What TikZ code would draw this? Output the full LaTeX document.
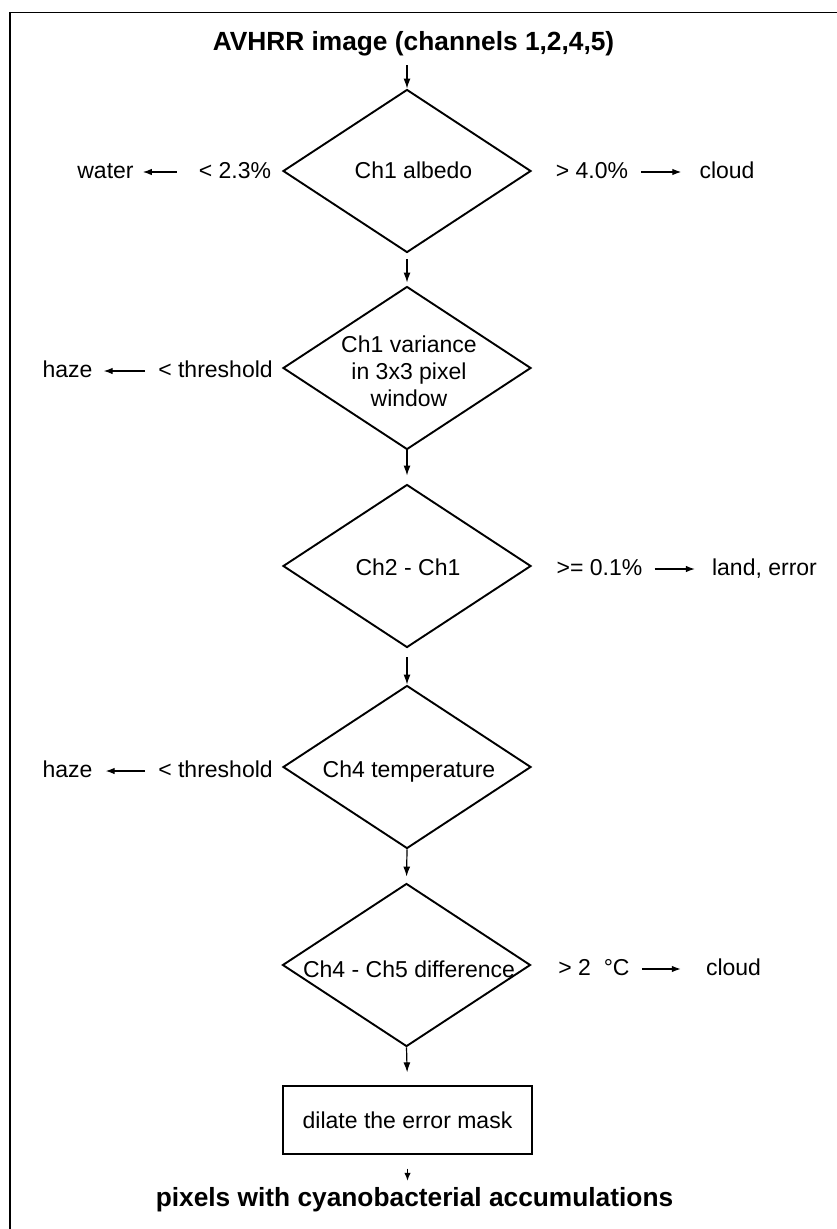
\documentclass[tikz,border=0pt]{standalone}
\usepackage{fontspec}
\setmainfont{Liberation Sans}
\usetikzlibrary{shapes.geometric,arrows.meta}
\begin{document}
\begin{tikzpicture}[x=1pt,y=-1pt,
  dia/.style={draw, diamond, line width=1.9pt, minimum width=248pt, minimum height=163pt, inner sep=0pt},
  lab/.style={inner sep=0pt, anchor=base, font=\fontsize{23}{27}\selectfont, text height=17pt, text depth=5pt},
  mlab/.style={inner sep=0pt, align=center, font=\fontsize{23}{27}\selectfont},
  ttl/.style={inner sep=0pt, anchor=base, font=\bfseries\fontsize{26.3}{30}\selectfont},
  procbox/.style={draw, line width=1.3pt, minimum width=249pt, minimum height=68pt, inner sep=0pt, font=\fontsize{23}{27}\selectfont},
  arr/.style={-{Latex[length=10pt,width=7pt]}, line width=1.2pt},
  harr/.style={-{Latex[length=9pt,width=6.5pt]}, line width=1.2pt}
]
\useasboundingbox (0,0) rectangle (837,1229);
\fill[white] (0,0) rectangle (837,1229);
% frame
\draw[line width=1.8pt] (837,12.5) -- (10,12.5) -- (10,1229);

% titles
\node[ttl] (title) at (413.5,50) {AVHRR image (channels 1,2,4,5)};
\node[ttl] (bt) at (414.5,1206) {pixels with cyanobacterial accumulations};

% diamonds
\node[dia] (d1) at (407,171) {};
\node[lab] (t1) at (413.5,178) {Ch1 albedo};
\node[dia] (d2) at (407,368) {};
\node[mlab] (t2) at (409,371.5) {Ch1 variance\\in 3x3 pixel\\window};
\node[dia] (d3) at (407,566) {};
\node[lab] (t3) at (408,575) {Ch2 - Ch1};
\node[dia] (d4) at (407,767) {};
\node[lab] (t4) at (409,777) {Ch4 temperature};
\node[dia] (d5) at (406.5,965) {};
\node[lab] (t5) at (409,977) {Ch4 - Ch5 difference};
\node[procbox] (r) at (407.5,1120) {dilate the error mask};

% side labels
\node[lab] (water) at (105.5,178) {water};
\node[lab] (lt1) at (235,178) {< 2.3\%};
\node[lab] (gt1) at (592,178) {> 4.0\%};
\node[lab] (cloud1) at (727,178) {cloud};
\node[lab] (haze1) at (67.5,377) {haze};
\node[lab] (th1) at (215.5,377) {< threshold};
\node[lab] (ge) at (599.5,575) {>= 0.1\%};
\node[lab] (land) at (764.5,575) {land, error};
\node[lab] (haze2) at (67.5,777) {haze};
\node[lab] (th2) at (215.5,777) {< threshold};
\node[lab] (gt5) at (594,975) {> 2\ \ °C};
\node[lab] (cloud5) at (733.5,975) {cloud};

% vertical flow
\draw[arr, shorten <=9.5pt] (title.south -| d1.north) -- (d1.north);
\draw[arr, shorten <=6pt, shorten >=3pt] (d1.south) -- (d2.north);
\draw[arr, shorten >=8pt] (d2.south) -- (d3.north);
\draw[arr, shorten <=9pt] (d3.south) -- (d4.north);
\draw[arr, shorten >=6pt] (d4.south) -- (d5.north);
\draw[arr, shorten >=13pt] (d5.south) -- (r.north);
\draw[-{Latex[length=8pt,width=6.5pt]}, line width=1.2pt, shorten <=14pt, shorten >=6pt] (r.south) -- (r.south |- bt.north);

% side arrows
\draw[harr, shorten <=22pt, shorten >=9pt] (lt1.west) -- (water.east);
\draw[harr, shorten <=13pt, shorten >=18pt] (gt1.east) -- (cloud1.west);
\draw[harr, shorten <=13pt, shorten >=11pt] (th1.west) -- (haze1.east);
\draw[harr, shorten <=12pt, shorten >=17pt] (ge.east) -- (land.west);
\draw[harr, shorten <=13pt, shorten >=13pt] (th2.west) -- (haze2.east);
\draw[harr, shorten <=12pt, shorten >=25pt] (gt5.east) -- (cloud5.west);
\end{tikzpicture}
\end{document}
